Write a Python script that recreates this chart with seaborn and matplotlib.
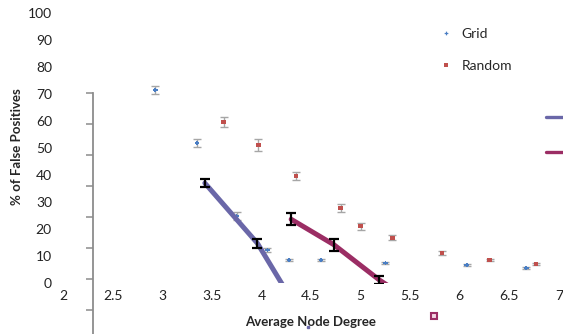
import matplotlib
matplotlib.use("Agg")
import matplotlib.pyplot as plt
from matplotlib.lines import Line2D
import seaborn as sns
import pandas as pd

# scatter series
grid_x = [2.93, 3.35, 3.75, 4.06, 4.28, 4.60, 5.25, 6.07, 6.67]
grid_y = [71.5, 51.9, 24.8, 12.2, 8.5, 8.5, 7.4, 6.7, 5.6]
grid_err = [1.5, 1.5, 1.5, 0.6, 0.3, 0.3, 0.3, 0.4, 0.3]

rand_x = [3.62, 3.97, 4.35, 4.80, 5.00, 5.32, 5.82, 6.30, 6.77]
rand_y = [59.6, 51.1, 39.6, 27.8, 21.1, 16.7, 11.1, 8.5, 7.0]
rand_err = [1.9, 2.1, 1.5, 1.5, 1.3, 0.9, 0.7, 0.5, 0.5]

# thick line series with black error bars
purple_x = [3.43, 3.96, 4.47]
purple_y = [37.0, 14.7, -16.3]
purple_err = [1.5, 1.6, 0.0]

plum_x = [4.30, 4.73, 5.19, 5.74]
plum_y = [23.6, 14.2, 1.1, -12.2]
plum_err = [2.2, 2.2, 1.5, 0.0]

x_ticks = [2, 2.5, 3, 3.5, 4, 4.5, 5, 5.5, 6, 6.5, 7]
y_ticks = [0, 10, 20, 30, 40, 50, 60, 70, 80, 90, 100]

sns.set_style("white")
plt.rcParams['font.family'] = ['Lato', 'DejaVu Sans']

W, H = 563, 334
fig = plt.figure(figsize=(W / 100, H / 100), dpi=100)
ax = fig.add_axes([63 / W, 51 / H, 496 / W, 270 / H])

df = pd.concat([
    pd.DataFrame({'deg': grid_x, 'fp': grid_y, 'kind': 'Grid'}),
    pd.DataFrame({'deg': rand_x, 'fp': rand_y, 'kind': 'Random'}),
])

ax.errorbar(grid_x, grid_y, yerr=grid_err, fmt='none', ecolor='#A6A6A6',
            elinewidth=1, capsize=2.8, zorder=2)
ax.errorbar(rand_x, rand_y, yerr=rand_err, fmt='none', ecolor='#A6A6A6',
            elinewidth=1, capsize=2.8, zorder=2)
sns.scatterplot(data=df, x='deg', y='fp', hue='kind', style='kind',
                palette={'Grid': '#4A7EC4', 'Random': '#C0504D'},
                markers={'Grid': 'P', 'Random': 's'}, s=11, linewidth=0,
                ax=ax, zorder=3)

# thick lines (clipped at the axis bottom, end markers spill out)
ax.plot(purple_x, purple_y, color='#6A67A8', lw=3.6, solid_capstyle='round', zorder=4)
ax.plot(plum_x, plum_y, color='#9B2D64', lw=3.6, solid_capstyle='round', zorder=4)
ax.errorbar(purple_x[:2], purple_y[:2], yerr=purple_err[:2], fmt='none',
            ecolor='black', elinewidth=1.6, capsize=3.6, capthick=1.6, zorder=5)
ax.errorbar(plum_x[:3], plum_y[:3], yerr=plum_err[:3], fmt='none',
            ecolor='black', elinewidth=1.6, capsize=3.6, capthick=1.6, zorder=5)
ax.plot(plum_x[-1:], plum_y[-1:], 's', ms=5, mfc='#F3D6E4', mec='#9B2D64',
        mew=1.5, clip_on=False, zorder=5)
ax.plot(purple_x[-1:], purple_y[-1:], 's', ms=2, mfc='#6A67A8', mec='#6A67A8',
        clip_on=False, zorder=1)

ax.set_xlim(2, 7)
ax.set_ylim(0, 100)
ax.set_xticks(x_ticks)
ax.set_xticklabels([f'{t:g}' for t in x_ticks])
ax.set_yticks(y_ticks)
for s in ax.spines.values():
    s.set_visible(False)
ax.tick_params(length=0, labelsize=10, colors='#222222')
ax.tick_params(axis='y', pad=8)
ax.tick_params(axis='x', pad=5)
ax.set_facecolor('none')

ax.set_xlabel('Average Node Degree', fontsize=9.5, fontweight='bold', labelpad=10)
ax.set_ylabel('')
fig.text(17 / W, 1 - 147 / H, '% of False Positives', rotation=90,
         fontsize=9.5, fontweight='bold', ha='center', va='center')

leg = ax.legend(loc='upper left', bbox_to_anchor=(440 / W, 1 - 28 / H),
                bbox_transform=fig.transFigure, frameon=False, fontsize=10,
                handlelength=0.8, handletextpad=0.75, labelspacing=1.45,
                borderpad=0, borderaxespad=0, markerscale=0.8)
leg.set_title(None)

# stray second axis (no labels)
ax2 = fig.add_axes([93 / W, 0, 0.0005, 241 / H])
ax2.set_facecolor('none')
for k in ['top', 'right', 'bottom']:
    ax2.spines[k].set_visible(False)
ax2.spines['left'].set_color('#8C8C8C')
ax2.spines['left'].set_linewidth(1.3)
ax2.set_ylim(-7.74, 70)
ax2.set_yticks(range(0, 71, 10))
ax2.set_yticklabels([])
ax2.set_xticks([])
ax2.tick_params(axis='y', left=True, length=5, width=1.1, color='#8C8C8C',
                direction='out')

# second legend handles cut off at the right edge
fig.add_artist(Line2D([546 / W, 1.0], [1 - 117 / H] * 2, color='#6A67A8', lw=2.4))
fig.add_artist(Line2D([546 / W, 1.0], [1 - 152 / H] * 2, color='#9B2D64', lw=2.4))

fig.savefig('out.png', dpi=100)
